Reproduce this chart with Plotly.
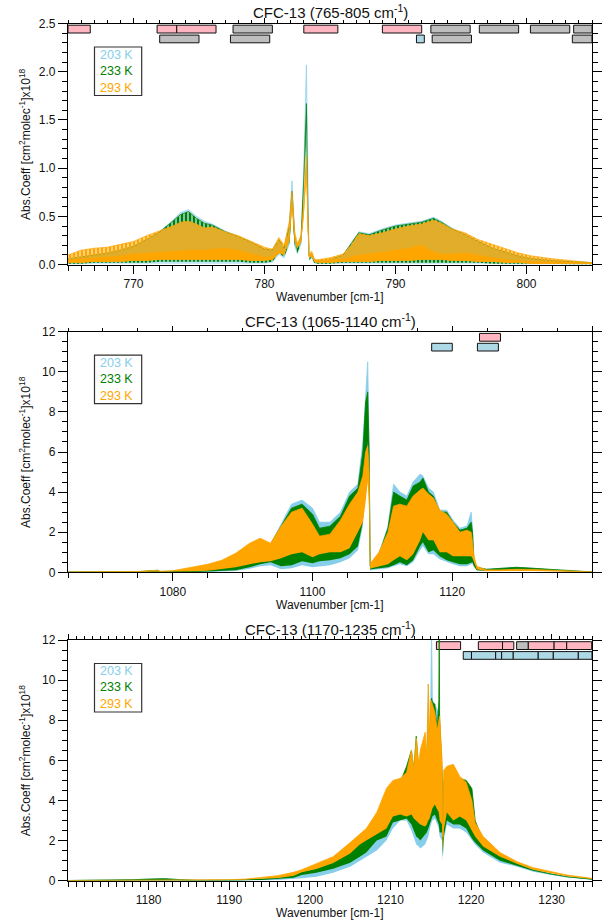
import plotly.graph_objects as go

# ======================= DATA =======================
# ---- Panel 1 : 765-805 cm-1 (envelopes) ----
p1_wn = [765, 766, 767, 768, 769, 770, 771, 772, 773, 773.6, 774.2, 774.8, 775.4,
         776, 777, 778, 779, 780, 780.6, 781.1, 781.5, 781.9, 782.1, 782.3, 782.5, 782.8,
         783.0, 783.2, 783.3, 783.4, 783.6, 783.8, 784, 785, 786, 786.6, 787.2,
         788, 789, 790, 791, 792, 792.9, 793.5, 794.3, 795.3, 796.3, 797.4, 798.4, 799.4, 800.4,
         802, 803.5, 805]
p1_293_hi = [0.10, 0.15, 0.17, 0.18, 0.21, 0.24, 0.30, 0.35, 0.40, 0.44, 0.45, 0.42, 0.38,
             0.39, 0.34, 0.30, 0.24, 0.18, 0.16, 0.28, 0.20, 0.45, 0.76, 0.35, 0.22, 0.30,
             0.65, 1.13, 0.50, 0.10, 0.14, 0.06, 0.05, 0.07, 0.11, 0.20, 0.32,
             0.30, 0.33, 0.37, 0.40, 0.42, 0.46, 0.43, 0.37, 0.33, 0.26, 0.21, 0.16, 0.12, 0.09,
             0.06, 0.04, 0.02]
p1_293_core = [0.05, 0.06, 0.07, 0.08, 0.09, 0.11, 0.12, 0.13, 0.14, 0.15, 0.15, 0.15, 0.15,
               0.16, 0.17, 0.15, 0.11, 0.08, 0.08, 0.16, 0.12, 0.32, 0.70, 0.30, 0.20, 0.28,
               0.60, 1.10, 0.45, 0.08, 0.12, 0.05, 0.04, 0.05, 0.06, 0.08, 0.10,
               0.11, 0.13, 0.15, 0.17, 0.20, 0.13, 0.11, 0.11, 0.12, 0.10, 0.07, 0.05, 0.04, 0.03,
               0.03, 0.02, 0.02]
p1_293_lo = [0.02, 0.02, 0.03, 0.03, 0.03, 0.04, 0.04, 0.05, 0.05, 0.05, 0.05, 0.05, 0.05,
             0.05, 0.05, 0.05, 0.04, 0.04, 0.05, 0.12, 0.10, 0.25, 0.60, 0.25, 0.17, 0.24,
             0.50, 0.95, 0.35, 0.06, 0.09, 0.03, 0.02, 0.02, 0.03, 0.03, 0.03,
             0.03, 0.04, 0.04, 0.04, 0.05, 0.05, 0.05, 0.04, 0.04, 0.03, 0.03, 0.02, 0.02, 0.01,
             0.01, 0.01, 0.01]
p1_233_hi = [0.06, 0.08, 0.10, 0.12, 0.15, 0.19, 0.26, 0.34, 0.45, 0.52, 0.55, 0.48, 0.43,
             0.41, 0.34, 0.29, 0.23, 0.16, 0.15, 0.26, 0.17, 0.40, 0.76, 0.30, 0.17, 0.30,
             0.90, 1.67, 0.60, 0.09, 0.11, 0.04, 0.03, 0.05, 0.10, 0.22, 0.33,
             0.31, 0.36, 0.40, 0.42, 0.44, 0.48, 0.44, 0.37, 0.31, 0.24, 0.17, 0.13, 0.09, 0.06,
             0.04, 0.03, 0.02]
p1_233_lo = [0.01, 0.01, 0.02, 0.02, 0.02, 0.02, 0.02, 0.03, 0.03, 0.03, 0.03, 0.03, 0.03,
             0.03, 0.03, 0.03, 0.02, 0.02, 0.03, 0.12, 0.08, 0.22, 0.55, 0.20, 0.12, 0.22,
             0.65, 1.45, 0.40, 0.05, 0.07, 0.02, 0.01, 0.01, 0.02, 0.02, 0.02,
             0.02, 0.02, 0.02, 0.02, 0.02, 0.02, 0.02, 0.02, 0.02, 0.02, 0.01, 0.01, 0.01, 0.01,
             0.01, 0.00, 0.00]
p1_203_hi = [0.05, 0.07, 0.09, 0.11, 0.14, 0.18, 0.25, 0.34, 0.46, 0.54, 0.57, 0.50, 0.45,
             0.42, 0.35, 0.29, 0.23, 0.16, 0.15, 0.25, 0.16, 0.42, 0.87, 0.30, 0.14, 0.30,
             1.00, 2.07, 0.70, 0.08, 0.10, 0.03, 0.03, 0.05, 0.10, 0.22, 0.34,
             0.32, 0.37, 0.41, 0.43, 0.45, 0.49, 0.45, 0.38, 0.31, 0.24, 0.17, 0.12, 0.08, 0.06,
             0.04, 0.03, 0.02]
p1_203_lo = [0.00, 0.00, 0.01, 0.01, 0.01, 0.01, 0.01, 0.01, 0.01, 0.01, 0.01, 0.01, 0.01,
             0.01, 0.01, 0.01, 0.01, 0.01, 0.02, 0.10, 0.06, 0.20, 0.60, 0.18, 0.10, 0.20,
             0.75, 1.80, 0.45, 0.04, 0.06, 0.01, 0.01, 0.01, 0.01, 0.01, 0.01,
             0.01, 0.01, 0.01, 0.01, 0.01, 0.01, 0.01, 0.01, 0.01, 0.01, 0.01, 0.00, 0.00, 0.00,
             0.00, 0.00, 0.00]

# ---- Panel 2 : 1065-1140 cm-1 ----
p2_wn = [1065, 1070, 1075, 1077.8, 1078.2, 1080, 1083, 1085, 1087, 1089,
         1091, 1092.5, 1094, 1095.5, 1097, 1098.5, 1100, 1101, 1102.5, 1104,
         1105.3, 1106.5, 1107.2, 1107.6, 1107.9, 1108.1, 1108.25, 1108.4, 1109.5, 1110.8,
         1111.6, 1112.5, 1113.5, 1114.4, 1115.4, 1115.8, 1116.6, 1117.3, 1118.2, 1119.2,
         1120.1, 1121.1, 1122.1, 1122.7, 1122.9, 1123.1, 1123.5, 1124.9, 1126.8, 1129.2,
         1131.6, 1136.4, 1140]
p2_293_hi = [0.02, 0.03, 0.04, 0.10, 0.05, 0.08, 0.25, 0.40, 0.60, 0.95,
             1.45, 1.70, 1.45, 2.30, 3.00, 3.20, 2.40, 1.80, 1.90, 2.60,
             3.40, 4.00, 4.80, 6.00, 6.30, 5.00, 0.40, 0.50, 1.00, 2.00,
             3.30, 3.40, 3.30, 3.80, 4.10, 4.20, 3.90, 3.70, 3.10, 2.90,
             2.50, 2.00, 2.10, 2.00, 1.50, 0.80, 0.30, 0.12, 0.12, 0.15,
             0.14, 0.07, 0.02]
p2_293_lo = [0.00, 0.01, 0.01, 0.02, 0.01, 0.02, 0.05, 0.08, 0.15, 0.25,
             0.40, 0.50, 0.55, 0.70, 0.90, 1.00, 0.75, 0.90, 1.00, 1.00,
             1.20, 2.00, 2.50, 3.50, 4.50, 3.00, 0.15, 0.20, 0.30, 0.40,
             0.60, 0.80, 0.60, 0.90, 1.60, 2.00, 1.60, 1.60, 1.00, 1.00,
             0.80, 0.80, 0.80, 0.80, 0.70, 0.50, 0.15, 0.05, 0.06, 0.08,
             0.07, 0.03, 0.01]
p2_233_hi = [0.02, 0.02, 0.03, 0.10, 0.04, 0.05, 0.12, 0.20, 0.32, 0.55,
             0.80, 1.00, 1.40, 2.30, 3.20, 3.40, 2.90, 2.20, 2.30, 2.80,
             3.80, 4.20, 6.00, 8.50, 9.00, 6.00, 0.30, 0.30, 0.90, 2.20,
             4.00, 3.80, 3.60, 4.30, 4.50, 4.70, 4.00, 3.80, 3.00, 3.00,
             2.50, 2.10, 2.20, 2.50, 2.00, 0.60, 0.25, 0.15, 0.18, 0.25,
             0.20, 0.08, 0.02]
p2_233_lo = [0.00, 0.00, 0.01, 0.02, 0.01, 0.01, 0.02, 0.04, 0.06, 0.10,
             0.25, 0.40, 0.50, 0.30, 0.35, 0.55, 0.45, 0.55, 0.60, 0.70,
             0.90, 1.30, 2.50, 4.50, 6.50, 3.50, 0.12, 0.15, 0.20, 0.25,
             0.35, 0.50, 0.35, 0.60, 1.30, 1.50, 1.00, 1.10, 0.80, 0.60,
             0.50, 0.40, 0.40, 0.50, 0.50, 0.30, 0.10, 0.07, 0.10, 0.15,
             0.12, 0.04, 0.01]
p2_203_hi = [0.01, 0.02, 0.02, 0.09, 0.03, 0.04, 0.10, 0.17, 0.28, 0.50,
             0.70, 0.95, 1.40, 2.40, 3.40, 3.60, 3.20, 2.50, 2.50, 3.00,
             4.00, 4.40, 6.50, 8.80, 10.50, 6.00, 0.30, 0.30, 0.90, 2.30,
             4.40, 4.00, 3.80, 4.50, 4.90, 4.80, 4.20, 4.00, 3.10, 3.10,
             2.60, 2.20, 2.30, 3.00, 2.20, 0.60, 0.25, 0.15, 0.18, 0.25,
             0.20, 0.07, 0.02]
p2_203_lo = [0.00, 0.00, 0.00, 0.01, 0.00, 0.01, 0.01, 0.02, 0.04, 0.07,
             0.18, 0.30, 0.35, 0.15, 0.20, 0.35, 0.25, 0.30, 0.35, 0.50,
             0.70, 1.10, 2.30, 4.50, 6.50, 3.50, 0.10, 0.10, 0.15, 0.20,
             0.30, 0.40, 0.30, 0.50, 1.10, 1.30, 0.90, 0.90, 0.65, 0.50,
             0.40, 0.30, 0.30, 0.40, 0.40, 0.30, 0.10, 0.07, 0.08, 0.12,
             0.10, 0.03, 0.01]

# ---- Panel 3 : 1170-1235 cm-1 ----
p3_wn = [1170, 1175, 1178, 1180, 1182, 1184, 1186, 1190, 1192, 1194,
         1196, 1198, 1199, 1200.8, 1202.9, 1205, 1206.2, 1207, 1208.3, 1209.5,
         1210.3, 1211.2, 1212, 1212.6, 1212.9, 1213.2, 1213.5, 1213.7, 1214.3, 1214.5,
         1214.7, 1214.85, 1215.0, 1215.1, 1215.2, 1215.5, 1215.8, 1216.0, 1216.05, 1216.1,
         1216.4, 1216.5, 1216.6, 1217, 1217.8, 1218.6, 1219.4, 1220.1, 1220.5, 1221.5,
         1223.6, 1225.7, 1227.7, 1229.8, 1231.9, 1235]
p3_293_hi = [0.01, 0.02, 0.03, 0.04, 0.04, 0.03, 0.03, 0.05, 0.08, 0.15,
             0.25, 0.42, 0.55, 0.85, 1.20, 1.90, 2.30, 2.60, 3.40, 4.60,
             5.00, 5.10, 5.40, 6.50, 5.60, 7.10, 5.80, 6.50, 7.40, 6.20,
             9.80, 7.00, 9.00, 8.90, 8.80, 8.40, 7.50, 8.00, 8.20, 8.20,
             6.00, 2.20, 5.50, 5.70, 5.80, 5.20, 4.90, 4.00, 2.90, 2.20,
             1.40, 0.95, 0.65, 0.45, 0.28, 0.12]
p3_293_lo = [0.00, 0.01, 0.01, 0.01, 0.01, 0.01, 0.01, 0.03, 0.06, 0.10,
             0.14, 0.25, 0.42, 0.58, 0.88, 1.35, 1.80, 2.00, 2.30, 2.60,
             3.20, 3.30, 3.20, 3.30, 3.10, 3.00, 2.90, 2.80, 2.70, 2.80,
             3.00, 3.10, 3.30, 3.50, 3.60, 3.80, 3.50, 3.40, 3.20, 3.00,
             2.80, 1.50, 2.50, 3.40, 3.00, 3.20, 3.00, 2.50, 2.20, 1.70,
             1.20, 0.85, 0.55, 0.38, 0.22, 0.09]
p3_233_hi = [0.01, 0.02, 0.05, 0.08, 0.10, 0.05, 0.02, 0.03, 0.05, 0.08,
             0.14, 0.25, 0.45, 0.60, 0.90, 1.40, 2.00, 2.40, 3.00, 4.00,
             4.60, 4.90, 5.70, 6.50, 5.50, 7.20, 5.50, 6.00, 6.50, 6.00,
             8.00, 7.00, 8.80, 9.10, 8.90, 8.80, 7.50, 9.00, 12.50, 8.00,
             5.50, 2.00, 5.00, 5.50, 5.60, 5.10, 5.00, 4.60, 3.00, 2.00,
             1.25, 0.85, 0.55, 0.35, 0.20, 0.08]
p3_233_lo = [0.00, 0.00, 0.01, 0.02, 0.02, 0.01, 0.00, 0.01, 0.02, 0.04,
             0.08, 0.15, 0.28, 0.40, 0.60, 0.90, 1.20, 1.40, 2.00, 2.20,
             2.90, 3.00, 3.10, 2.80, 2.50, 2.20, 2.10, 2.00, 2.30, 2.40,
             2.60, 2.80, 3.00, 3.10, 3.20, 3.30, 3.00, 2.80, 2.60, 2.40,
             2.40, 1.20, 2.20, 3.00, 2.80, 2.80, 2.60, 2.10, 1.90, 1.50,
             1.00, 0.75, 0.50, 0.32, 0.18, 0.06]
p3_203_hi = [0.01, 0.02, 0.05, 0.08, 0.10, 0.05, 0.02, 0.02, 0.04, 0.06,
             0.10, 0.20, 0.38, 0.50, 0.80, 1.30, 1.90, 2.30, 2.90, 3.90,
             4.50, 4.80, 5.50, 6.20, 5.30, 6.80, 5.30, 5.80, 6.80, 6.00,
             9.80, 7.00, 9.00, 12.50, 9.00, 8.80, 8.50, 8.50, 8.50, 8.00,
             5.00, 2.00, 4.80, 5.40, 5.50, 5.00, 4.90, 4.50, 3.00, 1.90,
             1.20, 0.80, 0.52, 0.33, 0.19, 0.07]
p3_203_lo = [0.00, 0.00, 0.01, 0.02, 0.02, 0.01, 0.00, 0.01, 0.01, 0.02,
             0.04, 0.08, 0.12, 0.20, 0.40, 0.70, 1.00, 1.20, 1.50, 2.00,
             2.60, 3.00, 3.00, 2.50, 2.10, 1.80, 1.70, 1.60, 1.80, 2.00,
             2.20, 2.50, 2.80, 2.90, 3.00, 3.10, 2.80, 2.60, 2.40, 2.20,
             2.00, 1.00, 2.00, 2.80, 2.60, 2.60, 2.40, 2.00, 1.80, 1.40,
             0.90, 0.70, 0.45, 0.30, 0.16, 0.05]

# ---- coverage bars at the top of each panel (start, end, kind) ----
p1_bars_row1_start = [765.0, 771.8, 773.3, 777.6, 783.0, 789.0, 792.7, 796.4, 800.3, 803.6]
p1_bars_row1_end = [766.7, 773.3, 776.3, 780.6, 785.6, 792.0, 795.7, 799.4, 803.3, 805.0]
p1_bars_row1_kind = ["pink", "pink", "pink", "gray", "pink", "pink", "gray", "gray", "gray", "gray"]
p1_bars_row2_start = [772.0, 777.4, 791.6, 792.8, 803.5]
p1_bars_row2_end = [775.0, 780.4, 792.2, 795.8, 805.0]
p1_bars_row2_kind = ["gray", "gray", "blue", "gray", "gray"]

p2_bars_row1_start = [1123.9]
p2_bars_row1_end = [1126.9]
p2_bars_row1_kind = ["pink"]
p2_bars_row2_start = [1117.05, 1123.6]
p2_bars_row2_end = [1120.0, 1126.6]
p2_bars_row2_kind = ["blue", "blue"]

p3_bars_row1_start = [1215.7, 1220.9, 1223.9, 1225.65, 1227.1, 1230.3, 1231.86]
p3_bars_row1_end = [1218.7, 1223.9, 1225.3, 1227.1, 1230.3, 1231.86, 1234.96]
p3_bars_row1_kind = ["pink", "pink", "pink", "gray", "pink", "pink", "pink"]
p3_bars_row2_start = [1219.03, 1220.05, 1223.05, 1223.79, 1225.23, 1228.33, 1230.2, 1233.3]
p3_bars_row2_end = [1220.05, 1223.05, 1223.79, 1225.23, 1228.33, 1230.2, 1233.3, 1235.0]
p3_bars_row2_kind = ["blue"] * 8

# ---- axes / labels ----
titles = ["CFC-13 (765-805 cm<sup>-1</sup>)",
          "CFC-13 (1065-1140 cm<sup>-1</sup>)",
          "CFC-13 (1170-1235 cm<sup>-1</sup>)"]
x_ranges = [[765, 805], [1065, 1140], [1170, 1235]]
x_tickvals = [[770, 780, 790, 800], [1080, 1100, 1120], [1180, 1190, 1200, 1210, 1220, 1230]]
x_major_all = [[770, 780, 790, 800], [1080, 1100, 1120, 1140], [1170, 1180, 1190, 1200, 1210, 1220, 1230]]
x_minor = [1, 5, 1]
y_ranges = [[0, 2.5], [0, 12], [0, 12]]
y_tickvals = [[0, 0.5, 1.0, 1.5, 2.0, 2.5], [0, 2, 4, 6, 8, 10, 12], [0, 2, 4, 6, 8, 10, 12]]
y_ticktext = [["0.0", "0.5", "1.0", "1.5", "2.0", "2.5"],
              ["0", "2", "4", "6", "8", "10", "12"], ["0", "2", "4", "6", "8", "10", "12"]]
y_minor = [0.1, 0.5, 0.5]
temps = ["203 K", "233 K", "293 K"]
x_title = "Wavenumber [cm-1]"
y_title = "Abs.Coeff [cm<sup>2</sup>molec<sup>-1</sup>]x10<sup>18</sup>"

# ======================= STYLE =======================
W, H = 614, 923
PL, PR = 68, 592
panels_px = [(23.5, 264.6), (331.7, 572.3), (640.0, 880.7)]
C_BLUE, C_GREEN, C_ORANGE = "#87CEEB", "#008000", "#FFA500"
BAR_COL = {"pink": "#FFB6C1", "gray": "#BEBEBE", "blue": "#ADD8E6"}
FONT = "Liberation Sans, Arial, Helvetica, sans-serif"


def px_x(px):
    return (px - PL) / (PR - PL)


def px_y(py):
    return 1 - py / H


fig = go.Figure()


def axes_of(idx):
    xa = "x" if idx == 0 else "x%d" % (idx + 1)
    ya = "y" if idx == 0 else "y%d" % (idx + 1)
    return xa, ya


def band(x, lo, hi, color, fillcolor, idx, lw=0.8, pattern=None):
    xa, ya = axes_of(idx)
    fig.add_trace(go.Scatter(x=x, y=lo, mode="lines", line=dict(width=0, color=color),
                             showlegend=False, hoverinfo="skip", xaxis=xa, yaxis=ya))
    kw = {}
    if pattern is not None:
        kw["fillpattern"] = pattern
    fig.add_trace(go.Scatter(x=x, y=hi, mode="lines", line=dict(width=lw, color=color),
                             fill="tonexty", fillcolor=fillcolor,
                             showlegend=False, hoverinfo="skip", xaxis=xa, yaxis=ya, **kw))


# panel 1 (resolved line comb -> vertical-line patterned fills, dense core for 293 K)
band(p1_wn, p1_203_lo, p1_203_hi, C_BLUE, "rgba(135,206,235,0.55)", 0, lw=0.7)
band(p1_wn, p1_233_lo, p1_233_hi, C_GREEN, "rgba(0,128,0,0.3)", 0, lw=0.7,
     pattern=dict(shape="|", size=4, solidity=0.5, fgcolor=C_GREEN,
                  bgcolor="rgba(0,128,0,0.3)", fillmode="replace"))
band(p1_wn, p1_293_lo, p1_293_hi, C_ORANGE, "rgba(255,165,0,0.4)", 0, lw=0.7,
     pattern=dict(shape="|", size=4, solidity=0.65, fgcolor=C_ORANGE,
                  bgcolor="rgba(255,165,0,0.3)", fillmode="replace"))
band(p1_wn, p1_293_lo, p1_293_core, C_ORANGE, C_ORANGE, 0, lw=0.5)

# panel 2
band(p2_wn, p2_203_lo, p2_203_hi, C_BLUE, C_BLUE, 1)
band(p2_wn, p2_233_lo, p2_233_hi, C_GREEN, C_GREEN, 1)
band(p2_wn, p2_293_lo, p2_293_hi, C_ORANGE, C_ORANGE, 1)

# panel 3
band(p3_wn, p3_203_lo, p3_203_hi, C_BLUE, C_BLUE, 2)
band(p3_wn, p3_233_lo, p3_233_hi, C_GREEN, C_GREEN, 2)
band(p3_wn, p3_293_lo, p3_293_hi, C_ORANGE, C_ORANGE, 2)

shapes = []
annotations = []
bar_rows = [
    [(p1_bars_row1_start, p1_bars_row1_end, p1_bars_row1_kind),
     (p1_bars_row2_start, p1_bars_row2_end, p1_bars_row2_kind)],
    [(p2_bars_row1_start, p2_bars_row1_end, p2_bars_row1_kind),
     (p2_bars_row2_start, p2_bars_row2_end, p2_bars_row2_kind)],
    [(p3_bars_row1_start, p3_bars_row1_end, p3_bars_row1_kind),
     (p3_bars_row2_start, p3_bars_row2_end, p3_bars_row2_kind)],
]
row_px = [(1.7, 9.5), (11.6, 19.3)]
legend_html = "<br>".join('<span style="color:%s">%s</span>' % (c, t)
                          for t, c in zip(temps, [C_BLUE, C_GREEN, C_ORANGE]))

layout_axes = {}
for i in range(3):
    top, bot = panels_px[i]
    ph = bot - top
    xa, ya = axes_of(i)
    xkey = "xaxis" if i == 0 else "xaxis%d" % (i + 1)
    ykey = "yaxis" if i == 0 else "yaxis%d" % (i + 1)
    tkey = "xaxis%d" % (i + 4)
    common = dict(showline=True, linecolor="black", linewidth=1.3,
                  ticks="outside", ticklen=9, tickwidth=1.1, tickcolor="black",
                  showgrid=False, zeroline=False,
                  tickfont=dict(family=FONT, size=12, color="#111"))
    layout_axes[xkey] = dict(common, ticklen=8, mirror=True, domain=[0, 1], anchor=ya,
                             range=x_ranges[i],
                             tickmode="array", tickvals=x_tickvals[i],
                             minor=dict(tickmode="linear", tick0=x_ranges[i][0], dtick=x_minor[i],
                                        ticks="outside", ticklen=5, tickwidth=1,
                                        tickcolor="black", showgrid=False))
    # short ticks along the top edge
    layout_axes[tkey] = dict(overlaying=xa, side="top", anchor=ya, range=x_ranges[i],
                             showline=False, showgrid=False, zeroline=False,
                             showticklabels=False, ticks="outside", ticklen=5, tickwidth=1,
                             tickcolor="black", tickmode="array", tickvals=x_major_all[i],
                             minor=dict(tickmode="linear", tick0=x_ranges[i][0], dtick=x_minor[i],
                                        ticks="outside", ticklen=3, tickwidth=1,
                                        tickcolor="black", showgrid=False))
    fig.add_trace(go.Scatter(x=[x_ranges[i][0]], y=[-1], mode="markers",
                             marker=dict(size=1, opacity=0),
                             xaxis="x%d" % (i + 4), yaxis=ya, showlegend=False, hoverinfo="skip"))
    layout_axes[ykey] = dict(common, mirror="ticks", domain=[px_y(bot), px_y(top)], anchor=xa,
                             range=y_ranges[i],
                             tickmode="array", tickvals=y_tickvals[i], ticktext=y_ticktext[i],
                             minor=dict(tickmode="linear", tick0=0, dtick=y_minor[i],
                                        ticks="outside", ticklen=5, tickwidth=1,
                                        tickcolor="black", showgrid=False))

    # coverage bars
    for r, (starts, ends, kinds) in enumerate(bar_rows[i]):
        y0 = 1 - row_px[r][1] / ph
        y1 = 1 - row_px[r][0] / ph
        for s, e, k in zip(starts, ends, kinds):
            shapes.append(dict(type="rect", xref=xa, yref=ya + " domain",
                               x0=max(s, x_ranges[i][0]), x1=min(e, x_ranges[i][1]),
                               y0=y0, y1=y1, fillcolor=BAR_COL[k],
                               line=dict(color="#111", width=1), layer="below"))

    # legend box
    shapes.append(dict(type="rect", xref=xa + " domain", yref=ya + " domain",
                       x0=px_x(94.5), x1=px_x(141.7), y0=1 - 72 / ph, y1=1 - 23.5 / ph,
                       fillcolor="white", line=dict(color="#333", width=1.2), layer="above"))
    annotations.append(dict(text=legend_html, xref=xa + " domain", yref=ya + " domain",
                            x=px_x(99), y=1 - 47.5 / ph, align="left",
                            xanchor="left", yanchor="middle", showarrow=False, borderpad=0,
                            font=dict(family=FONT, size=12.5, color="#111")))

    # panel title
    annotations.append(dict(text=titles[i], xref="paper", yref="paper",
                            x=0.5, y=px_y(top - 11.5), xanchor="center", yanchor="middle",
                            showarrow=False, font=dict(family=FONT, size=15, color="#111")))
    # x title
    annotations.append(dict(text=x_title, xref="paper", yref="paper",
                            x=0.5, y=px_y(bot + 32.5), xanchor="center", yanchor="middle",
                            showarrow=False, font=dict(family=FONT, size=12, color="#111")))
    # y title
    annotations.append(dict(text=y_title, xref="paper", yref="paper", textangle=-90,
                            x=px_x(25), y=px_y((top + bot) / 2), xanchor="center",
                            yanchor="middle", showarrow=False,
                            font=dict(family=FONT, size=12, color="#111")))

fig.update_layout(
    width=W, height=H,
    margin=dict(l=PL, r=W - PR, t=0, b=0, autoexpand=False),
    paper_bgcolor="white", plot_bgcolor="white",
    showlegend=False,
    shapes=shapes, annotations=annotations,
    font=dict(family=FONT),
    **layout_axes,
)

fig.write_html("out.html", config={"displayModeBar": False},
               post_script="document.body.style.margin='0px';document.body.style.padding='0px';")
